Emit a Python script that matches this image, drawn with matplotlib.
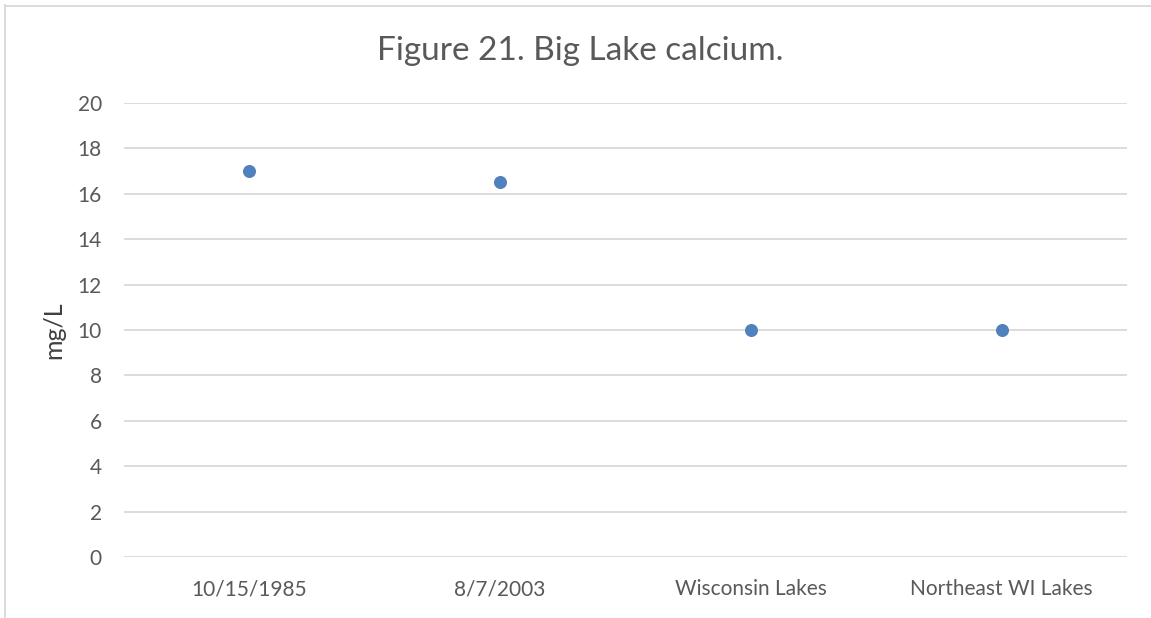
import matplotlib
matplotlib.use("Agg")
import matplotlib.pyplot as plt
from matplotlib.lines import Line2D

categories = ["10/15/1985", "8/7/2003", "Wisconsin Lakes", "Northeast WI Lakes"]
calcium = [17, 16.5, 10, 10]
y_ticks = [0, 2, 4, 6, 8, 10, 12, 14, 16, 18, 20]

plt.rcParams["font.family"] = ["Lato", "DejaVu Sans"]

W, H = 1151, 618
fig = plt.figure(figsize=(W / 100, H / 100), dpi=100)
ax = fig.add_axes([124 / W, 1 - 557 / H, (1127 - 124) / W, (557 - 103) / H])

x = list(range(len(categories)))
ax.scatter(x, calcium, s=13 ** 2 * 0.52, color="#4F81BD", zorder=3, linewidths=0)

ax.set_xlim(-0.5, len(categories) - 0.5)
ax.set_ylim(0, 20)
ax.set_yticks(y_ticks)
ax.set_xticks(x)
ax.set_xticklabels(categories)
ax.yaxis.grid(True, color="#D9D9D9", linewidth=1.3)
ax.set_axisbelow(True)
for s in ax.spines.values():
    s.set_visible(False)
ax.tick_params(axis="both", length=0, colors="#595959", labelsize=15)
ax.tick_params(axis="y", pad=16)
ax.tick_params(axis="x", pad=16)
ax.set_ylabel("mg/L", fontsize=18, color="#404040", labelpad=9)

fig.text(580 / W, 1 - 51 / H, "Figure 21. Big Lake calcium.", ha="center", va="center",
         fontsize=24, color="#595959")

# chart frame
fig.add_artist(Line2D([4.5 / W, 4.5 / W], [1 - 5 / H, 0], transform=fig.transFigure,
                      color="#D9D9D9", linewidth=1.3))
fig.add_artist(Line2D([4.5 / W, 1.0], [1 - 5.5 / H, 1 - 5.5 / H], transform=fig.transFigure,
                      color="#D9D9D9", linewidth=1.3))

fig.savefig("out.png", dpi=100, facecolor="white")
